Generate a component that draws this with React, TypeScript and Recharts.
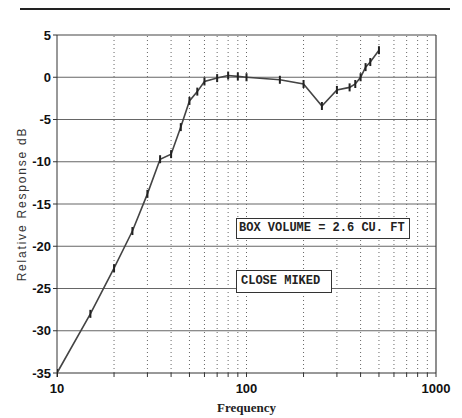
import React from 'react';
import { LineChart, Line, XAxis, YAxis, ReferenceLine } from 'recharts';

// frequency response
const freqs = [10, 15, 20, 25, 30, 35, 40, 45, 50, 55, 60, 70, 80, 90, 100, 150, 200, 250, 300, 350, 375, 400, 425, 450, 500];
const dbValues = [-35, -28, -22.6, -18.2, -13.8, -9.7, -9.1, -5.9, -2.8, -1.7, -0.5, -0.1, 0.2, 0.1, 0, -0.3, -0.8, -3.4, -1.5, -1.2, -0.8, 0, 1.2, 1.8, 3.2];

const xTicks = [10, 20, 30, 40, 50, 60, 70, 80, 90, 100, 200, 300, 400, 500, 600, 700, 800, 900, 1000];
const xLabels = [10, 100, 1000];
const yTicks = [-35, -30, -25, -20, -15, -10, -5, 0, 5];

const data = freqs.map((f, i) => ({ f, db: dbValues[i] }));

const TickMark = (props: any) => {
  const { cx, cy } = props;
  if (cx == null || cy == null) return null;
  return <line x1={cx} y1={cy - 4} x2={cx} y2={cy + 4} stroke="#222" strokeWidth={2} />;
};

const YTitle = (props: any) => {
  const vb = props.viewBox || {};
  const x = 22;
  const y = (vb.y ?? 35) + (vb.height ?? 338) / 2;
  return (
    <text x={x} y={y} transform={`rotate(-90 ${x} ${y})`} textAnchor="middle" dominantBaseline="central"
      fill="#333" fontSize={12} letterSpacing={1.8} fontFamily="Liberation Sans, Arial">
      Relative Response dB
    </text>
  );
};

export default function App() {
  return (
    <div style={{ position: 'absolute', left: 0, top: 0, width: 462, height: 418, background: '#fff' }}>
      <div style={{ position: 'absolute', left: 20, top: 8, width: 430, height: 2, background: '#222' }} />
      <LineChart width={462} height={418} data={data} margin={{ top: 35, right: 26, left: 17, bottom: 15 }}>
        {xTicks.filter(t => !xLabels.includes(t)).map(t => (
          <ReferenceLine key={'v' + t} x={t} stroke="#666" strokeDasharray="1 3" />
        ))}
        <ReferenceLine x={100} stroke="#666" strokeDasharray="1 3" />
        {yTicks.filter(t => t !== -35 && t !== 5).map(t => (
          <ReferenceLine key={'h' + t} y={t} stroke="#666" strokeWidth={1.2} />
        ))}
        <ReferenceLine y={5} stroke="#444" strokeWidth={1.2} />
        <ReferenceLine x={1000} stroke="#444" strokeWidth={1.2} />
        <XAxis
          dataKey="f"
          type="number"
          scale="log"
          domain={[10, 1000]}
          ticks={xTicks}
          interval={0}
          allowDataOverflow
          height={30}
          stroke="#333"
          tickSize={4}
          tickFormatter={(v: number) => (xLabels.includes(v) ? String(v) : '')}
          tick={{ fill: '#111', fontSize: 13, fontFamily: 'Liberation Sans, Arial', fontWeight: 'bold', dy: 5 }}
          label={{ value: 'Frequency', position: 'bottom', offset: 0, fill: '#222', fontSize: 13, fontFamily: 'Liberation Serif, serif', fontWeight: 'bold' }}
        />
        <YAxis
          type="number"
          domain={[-35, 5]}
          ticks={yTicks}
          interval={0}
          width={40}
          stroke="#333"
          tickSize={4}
          tick={{ fill: '#111', fontSize: 13, fontFamily: 'Liberation Sans, Arial', fontWeight: 'bold' }}
          label={{ content: <YTitle /> }}
        />
        <Line
          dataKey="db"
          stroke="#444"
          strokeWidth={1.6}
          dot={<TickMark />}
          activeDot={false}
          isAnimationActive={false}
        />
      </LineChart>
      <div style={{ position: 'absolute', left: 236, top: 218, width: 174, height: 21, border: '1.5px solid #333', boxSizing: 'border-box', background: '#fff', fontFamily: 'Liberation Mono, monospace', fontWeight: 'bold', fontSize: 12, lineHeight: '18px', paddingLeft: 2, color: '#222', whiteSpace: 'nowrap' }}>
        BOX VOLUME = 2.6 CU. FT
      </div>
      <div style={{ position: 'absolute', left: 236, top: 270, width: 96, height: 23, border: '1.5px solid #333', boxSizing: 'border-box', background: '#fff', fontFamily: 'Liberation Mono, monospace', fontWeight: 'bold', fontSize: 12, lineHeight: '20px', paddingLeft: 4, color: '#222', whiteSpace: 'nowrap' }}>
        CLOSE MIKED
      </div>
    </div>
  );
}
